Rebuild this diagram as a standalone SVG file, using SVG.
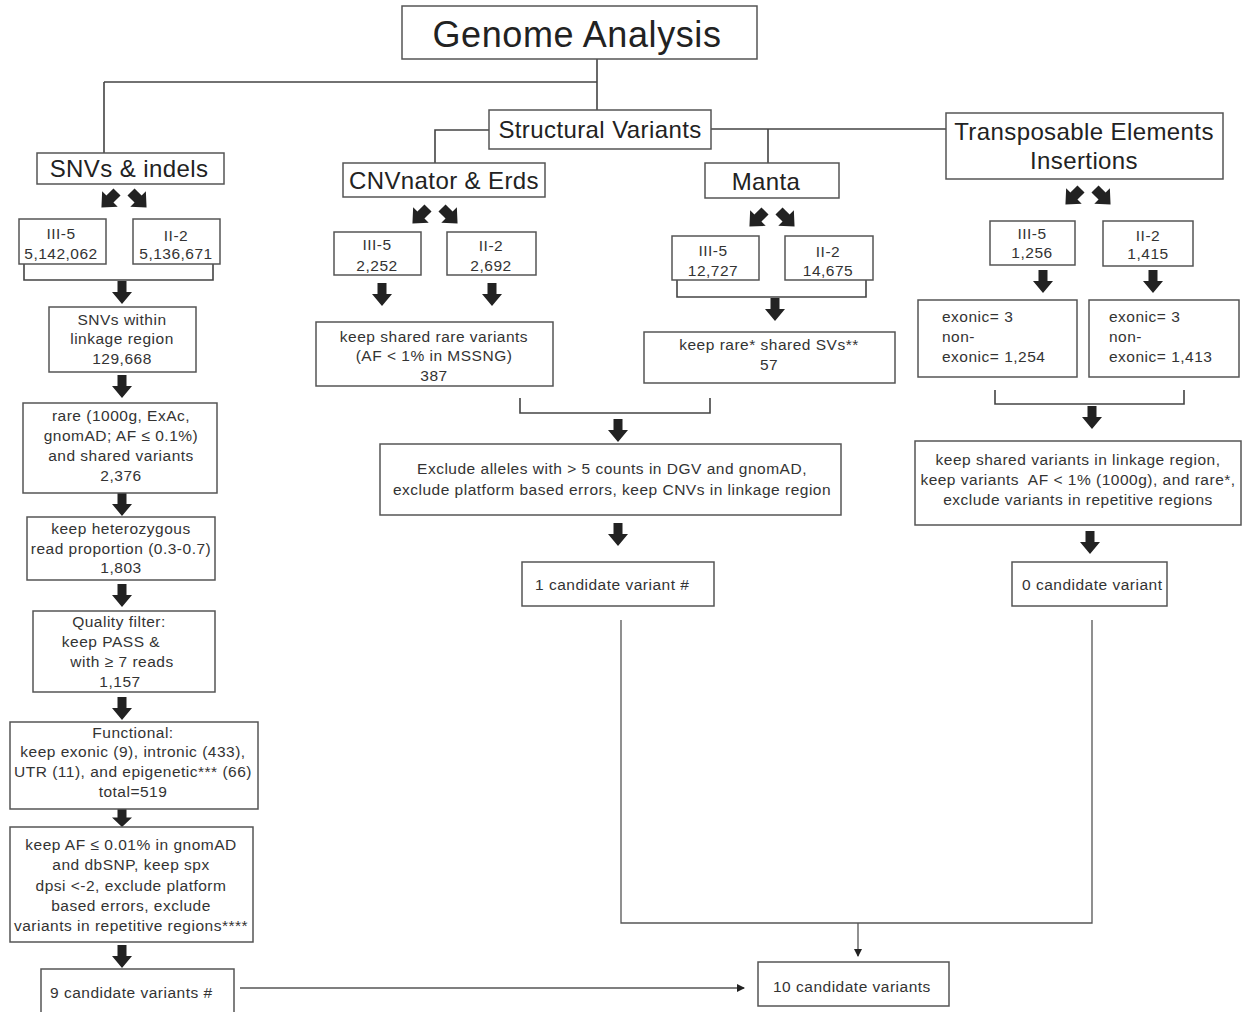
<svg xmlns="http://www.w3.org/2000/svg" xmlns:xlink="http://www.w3.org/1999/xlink" width="1247" height="1012" viewBox="0 0 1247 1012">
<style>
.box{fill:#fff;stroke:#555;stroke-width:1.5}
.t{font-family:"Liberation Sans",Arial,sans-serif;font-size:15.5px;letter-spacing:0.5px;fill:#333;text-anchor:middle}
.tl{font-family:"Liberation Sans",Arial,sans-serif;font-size:15.5px;letter-spacing:0.5px;fill:#333;text-anchor:start}
.h{font-family:"Liberation Sans",Arial,sans-serif;font-size:24px;letter-spacing:0.4px;fill:#222;text-anchor:middle}
.title{font-family:"Liberation Sans",Arial,sans-serif;font-size:36px;letter-spacing:0.6px;fill:#222;text-anchor:middle}
.ln{fill:none;stroke:#444;stroke-width:1.6}
.thin{fill:none;stroke:#555;stroke-width:1.3}
.ba{fill:#222}
</style>
<defs>
<path id="dn" class="ba" d="M-4.5,0 H4.5 V11 H10 L0,23 L-10,11 H-4.5 Z"/>
<path id="dg" class="ba" d="M-5,0 H5 V10 H11 L0,22 L-11,10 H-5 Z"/>
<marker id="tri" markerWidth="8" markerHeight="8" refX="7" refY="4" orient="auto" markerUnits="userSpaceOnUse">
<path d="M0,0 L8,4 L0,8 Z" fill="#222"/>
</marker>
</defs>

<g id="connectors">
<path class="ln" d="M597,59 V110 M104,82 H597 M104,82 V153"/>
<path class="ln" d="M489,130 H435 V163 M711,129 H947 M768,129 V163"/>
<path class="ln" d="M24,264 V280 H213 V264"/>
<path class="ln" d="M677,280 V297 H866 V280"/>
<path class="ln" d="M520,398 V413 H710 V398"/>
<path class="ln" d="M995,390 V404 H1184 V390"/>
<path class="thin" d="M621,620 V923 H1092 V620"/>
<path class="thin" d="M858,923 V956" marker-end="url(#tri)"/>
<path class="thin" d="M240,988 H744" marker-end="url(#tri)"/>
<!-- block arrows -->
<use xlink:href="#dg" transform="translate(117,192) rotate(45)"/>
<use xlink:href="#dg" transform="translate(131,192) rotate(-45)"/>
<use xlink:href="#dg" transform="translate(428,208) rotate(45)"/>
<use xlink:href="#dg" transform="translate(442,208) rotate(-45)"/>
<use xlink:href="#dg" transform="translate(765,211) rotate(45)"/>
<use xlink:href="#dg" transform="translate(779,211) rotate(-45)"/>
<use xlink:href="#dg" transform="translate(1081,189) rotate(45)"/>
<use xlink:href="#dg" transform="translate(1095,189) rotate(-45)"/>
<use xlink:href="#dn" transform="translate(122,281)"/>
<use xlink:href="#dn" transform="translate(122,375)"/>
<use xlink:href="#dn" transform="translate(122,493)"/>
<use xlink:href="#dn" transform="translate(122,584)"/>
<use xlink:href="#dn" transform="translate(122,697)"/>
<use xlink:href="#dn" transform="translate(122,809) scale(1,0.78)"/>
<use xlink:href="#dn" transform="translate(122,945)"/>
<use xlink:href="#dn" transform="translate(382,283)"/>
<use xlink:href="#dn" transform="translate(492,283)"/>
<use xlink:href="#dn" transform="translate(775,298)"/>
<use xlink:href="#dn" transform="translate(618,419)"/>
<use xlink:href="#dn" transform="translate(618,523)"/>
<use xlink:href="#dn" transform="translate(1043,270)"/>
<use xlink:href="#dn" transform="translate(1153,270)"/>
<use xlink:href="#dn" transform="translate(1092,406)"/>
<use xlink:href="#dn" transform="translate(1090,531)"/>
</g>

<g id="genome"><rect class="box" x="402" y="6" width="355" height="53"/><text class="title" x="577" y="47">Genome Analysis</text></g>
<g id="sv"><rect class="box" x="489" y="110" width="222" height="39"/><text class="h" x="600" y="138">Structural Variants</text></g>
<g id="snvs"><rect class="box" x="37" y="153" width="187" height="31"/><text class="h" x="129" y="177">SNVs &amp; indels</text></g>
<g id="cnv"><rect class="box" x="343" y="163" width="202" height="34"/><text class="h" x="444" y="189">CNVnator &amp; Erds</text></g>
<g id="manta"><rect class="box" x="705" y="163" width="134" height="35"/><text class="h" x="766" y="190">Manta</text></g>
<g id="te"><rect class="box" x="946" y="113" width="277" height="66"/><text class="h" x="1084" y="140">Transposable Elements</text><text class="h" x="1084" y="169">Insertions</text></g>

<g id="s_iii5"><rect class="box" x="19" y="219" width="87" height="45"/><text class="t" x="61" y="239">III-5</text><text class="t" x="61" y="259">5,142,062</text></g>
<g id="s_ii2"><rect class="box" x="133" y="219" width="87" height="45"/><text class="t" x="176" y="241">II-2</text><text class="t" x="176" y="259">5,136,671</text></g>
<g id="s_link"><rect class="box" x="49" y="307" width="147" height="65"/><text class="t" x="122" y="325">SNVs within</text><text class="t" x="122" y="344">linkage region</text><text class="t" x="122" y="364">129,668</text></g>
<g id="s_rare"><rect class="box" x="23" y="403" width="194" height="90"/><text class="t" x="121" y="421">rare (1000g, ExAc,</text><text class="t" x="121" y="441">gnomAD; AF ≤ 0.1%)</text><text class="t" x="121" y="461">and shared variants</text><text class="t" x="121" y="481">2,376</text></g>
<g id="s_het"><rect class="box" x="27" y="517" width="188" height="63"/><text class="t" x="121" y="534">keep heterozygous</text><text class="t" x="121" y="554">read proportion (0.3-0.7)</text><text class="t" x="121" y="573">1,803</text></g>
<g id="s_qual"><rect class="box" x="33" y="611" width="182" height="81"/><text class="t" x="119" y="627">Quality filter:</text><text class="t" x="111" y="647">keep PASS &amp;</text><text class="t" x="122" y="667">with ≥ 7 reads</text><text class="t" x="120" y="687">1,157</text></g>
<g id="s_func"><rect class="box" x="10" y="722" width="248" height="87"/><text class="t" x="133" y="738">Functional:</text><text class="t" x="133" y="757">keep exonic (9), intronic (433),</text><text class="t" x="133" y="777">UTR (11), and epigenetic*** (66)</text><text class="t" x="133" y="797">total=519</text></g>
<g id="s_af"><rect class="box" x="10" y="827" width="243" height="115"/><text class="t" x="131" y="850">keep AF ≤ 0.01% in gnomAD</text><text class="t" x="131" y="870">and dbSNP, keep spx</text><text class="t" x="131" y="891">dpsi &lt;-2, exclude platform</text><text class="t" x="131" y="911">based errors, exclude</text><text class="t" x="131" y="931">variants in repetitive regions****</text></g>
<g id="s_cand"><rect class="box" x="41" y="969" width="193" height="50"/><text class="tl" x="50" y="998">9 candidate variants #</text></g>

<g id="c_iii5"><rect class="box" x="334" y="232" width="87" height="43"/><text class="t" x="377" y="250">III-5</text><text class="t" x="377" y="271">2,252</text></g>
<g id="c_ii2"><rect class="box" x="447" y="232" width="89" height="43"/><text class="t" x="491" y="251">II-2</text><text class="t" x="491" y="271">2,692</text></g>
<g id="c_keep"><rect class="box" x="316" y="322" width="237" height="64"/><text class="t" x="434" y="342">keep shared rare variants</text><text class="t" x="434" y="361">(AF &lt; 1% in MSSNG)</text><text class="t" x="434" y="381">387</text></g>

<g id="m_iii5"><rect class="box" x="672" y="236" width="87" height="44"/><text class="t" x="713" y="256">III-5</text><text class="t" x="713" y="276">12,727</text></g>
<g id="m_ii2"><rect class="box" x="785" y="236" width="88" height="44"/><text class="t" x="828" y="257">II-2</text><text class="t" x="828" y="276">14,675</text></g>
<g id="m_keep"><rect class="box" x="644" y="332" width="251" height="51"/><text class="t" x="769" y="350">keep rare* shared SVs**</text><text class="t" x="769" y="370">57</text></g>

<g id="exclude"><rect class="box" x="380" y="444" width="461" height="71"/><text class="t" x="612" y="474">Exclude alleles with &gt; 5 counts in DGV and gnomAD,</text><text class="t" x="612" y="495">exclude platform based errors, keep CNVs in linkage region</text></g>
<g id="one_cand"><rect class="box" x="522" y="562" width="192" height="44"/><text class="tl" x="535" y="590">1 candidate variant #</text></g>

<g id="t_iii5"><rect class="box" x="990" y="221" width="85" height="44"/><text class="t" x="1032" y="239">III-5</text><text class="t" x="1032" y="258">1,256</text></g>
<g id="t_ii2"><rect class="box" x="1103" y="221" width="90" height="45"/><text class="t" x="1148" y="241">II-2</text><text class="t" x="1148" y="259">1,415</text></g>
<g id="t_ex1"><rect class="box" x="918" y="300" width="159" height="77"/><text class="tl" x="942" y="322">exonic= 3</text><text class="tl" x="942" y="342">non-</text><text class="tl" x="942" y="362">exonic= 1,254</text></g>
<g id="t_ex2"><rect class="box" x="1089" y="300" width="150" height="77"/><text class="tl" x="1109" y="322">exonic= 3</text><text class="tl" x="1109" y="342">non-</text><text class="tl" x="1109" y="362">exonic= 1,413</text></g>
<g id="t_keep"><rect class="box" x="915" y="441" width="326" height="84"/><text class="t" x="1078" y="465">keep shared variants in linkage region,</text><text class="t" x="1078" y="485">keep variants&#160; AF &lt; 1% (1000g), and rare*,</text><text class="t" x="1078" y="505">exclude variants in repetitive regions</text></g>
<g id="t_zero"><rect class="box" x="1012" y="562" width="155" height="44"/><text class="tl" x="1022" y="590">0 candidate variant</text></g>

<g id="final"><rect class="box" x="758" y="962" width="191" height="44"/><text class="tl" x="773" y="992">10 candidate variants</text></g>
</svg>
